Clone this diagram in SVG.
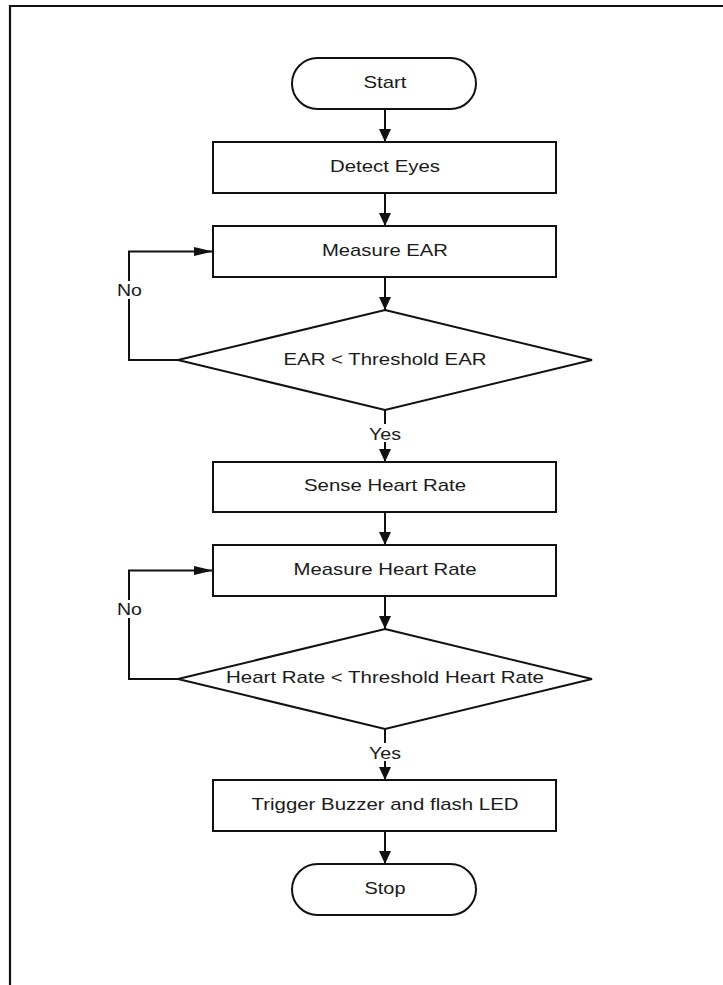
<svg xmlns="http://www.w3.org/2000/svg" width="723" height="985" viewBox="0 0 723 985">
<style>
.shape{fill:#fff;stroke:#111;stroke-width:2}
.conn{fill:none;stroke:#111;stroke-width:2}
.lbl{font-family:"Liberation Sans",Arial,sans-serif;font-size:17px;fill:#1a1a1a;text-anchor:middle}
.bg{fill:#fff}
</style>
<defs>
<marker id="av" markerUnits="userSpaceOnUse" markerWidth="14" markerHeight="13" refX="13" refY="6" orient="auto"><path d="M0,0 L13,6 L0,12 z" fill="#111"/></marker>
<marker id="ah" markerUnits="userSpaceOnUse" markerWidth="20" markerHeight="10" refX="19" refY="4.5" orient="auto"><path d="M0,0 L19,4.5 L0,9 z" fill="#111"/></marker>
</defs>
<rect width="723" height="985" fill="#fff"/>
<path d="M10,985 V6 H723" fill="none" stroke="#111" stroke-width="2.2"/>
<g id="connectors">
<line class="conn" x1="385" y1="109" x2="385" y2="142" marker-end="url(#av)"/>
<line class="conn" x1="385" y1="193" x2="385" y2="226" marker-end="url(#av)"/>
<line class="conn" x1="385" y1="277" x2="385" y2="310" marker-end="url(#av)"/>
<line class="conn" x1="385" y1="410" x2="385" y2="462" marker-end="url(#av)"/>
<line class="conn" x1="385" y1="512" x2="385" y2="545" marker-end="url(#av)"/>
<line class="conn" x1="385" y1="596" x2="385" y2="629" marker-end="url(#av)"/>
<line class="conn" x1="385" y1="729" x2="385" y2="780" marker-end="url(#av)"/>
<line class="conn" x1="385" y1="831" x2="385" y2="864" marker-end="url(#av)"/>
<path class="conn" d="M180,360 H129 V251.5 H213" marker-end="url(#ah)"/>
<path class="conn" d="M180,679 H129 V570.5 H213" marker-end="url(#ah)"/>
<rect class="bg" x="369" y="424" width="32" height="18"/>
<text class="lbl" x="385" y="439.5" textLength="32" lengthAdjust="spacingAndGlyphs">Yes</text>
<rect class="bg" x="369" y="743" width="32" height="18"/>
<text class="lbl" x="385" y="758.5" textLength="32" lengthAdjust="spacingAndGlyphs">Yes</text>
<rect class="bg" x="116" y="281" width="27" height="18"/>
<text class="lbl" x="129.5" y="296" textLength="25" lengthAdjust="spacingAndGlyphs">No</text>
<rect class="bg" x="116" y="600" width="27" height="18"/>
<text class="lbl" x="129.5" y="615" textLength="25" lengthAdjust="spacingAndGlyphs">No</text>
</g>
<g id="start">
<rect class="shape" x="292" y="58" width="184" height="51" rx="25.5"/>
<text class="lbl" x="385" y="88" textLength="43" lengthAdjust="spacingAndGlyphs">Start</text>
</g>
<g id="detect-eyes">
<rect class="shape" x="213" y="142" width="343" height="51"/>
<text class="lbl" x="385" y="172" textLength="110" lengthAdjust="spacingAndGlyphs">Detect Eyes</text>
</g>
<g id="measure-ear">
<rect class="shape" x="213" y="226" width="343" height="51"/>
<text class="lbl" x="385" y="256" textLength="126" lengthAdjust="spacingAndGlyphs">Measure EAR</text>
</g>
<g id="ear-decision">
<polygon class="shape" points="385,310 592,360 385,410 178,360"/>
<text class="lbl" x="385" y="364.5" textLength="203" lengthAdjust="spacingAndGlyphs">EAR &lt; Threshold EAR</text>
</g>
<g id="sense-heart-rate">
<rect class="shape" x="213" y="462" width="343" height="50"/>
<text class="lbl" x="385" y="490.5" textLength="162" lengthAdjust="spacingAndGlyphs">Sense Heart Rate</text>
</g>
<g id="measure-heart-rate">
<rect class="shape" x="213" y="545" width="343" height="51"/>
<text class="lbl" x="385" y="574.5" textLength="183" lengthAdjust="spacingAndGlyphs">Measure Heart Rate</text>
</g>
<g id="hr-decision">
<polygon class="shape" points="385,629 592,679 385,729 178,679"/>
<text class="lbl" x="385" y="683" textLength="318" lengthAdjust="spacingAndGlyphs">Heart Rate &lt; Threshold Heart Rate</text>
</g>
<g id="trigger">
<rect class="shape" x="213" y="780" width="343" height="51"/>
<text class="lbl" x="385" y="809.5" textLength="267" lengthAdjust="spacingAndGlyphs">Trigger Buzzer and flash LED</text>
</g>
<g id="stop">
<rect class="shape" x="292" y="864" width="184" height="51" rx="25.5"/>
<text class="lbl" x="385" y="893.5" textLength="41" lengthAdjust="spacingAndGlyphs">Stop</text>
</g>
</svg>
